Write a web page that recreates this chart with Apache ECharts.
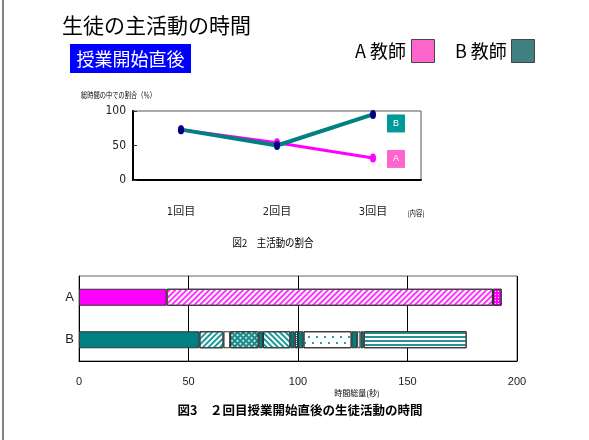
<!DOCTYPE html>
<html>
<head>
<meta charset="utf-8">
<script src="https://cdn.jsdelivr.net/npm/echarts@6/dist/echarts.min.js"></script>
<style>
html,body{margin:0;padding:0;background:#fff;}
#chart{width:589px;height:440px;}
</style>
</head>
<body>
<div id="chart"></div>
<script>
// ---- data ----
const lineCategories = ['1回目', '2回目', '3回目'];
const lineA = [73, 54, 32];
const lineB = [73, 50, 95];
const barCategories = ['A', 'B'];
const segmentsA = [40, 149, 4];
const segmentsB = [55, 11, 3, 13, 2, 12.5, 2, 1.5, 2.5, 22, 2.5, 1.5, 1.5, 47];

// ---- styles (not data) ----
const patternNamesA = ['solidM', 'slashM', 'dotsM'];
const patternNamesB = ['solidT', 'slashT', 'white', 'crossT', 'solidT', 'backT', 'solidT', 'fineT', 'solidT', 'dotsT', 'solidT', 'white', 'solidT', 'hstripeT'];
const MAG = '#ff00ff', TEAL = '#008080';
const patterns = {
  solidM: { color: MAG },
  slashM: { color: '#fff', decal: { symbol: 'rect', color: '#ff33ff', dashArrayX: [1, 0], dashArrayY: [2, 2], rotation: -Math.PI / 4 } },
  dotsM: { color: MAG, decal: { symbol: 'rect', color: '#ffffff', dashArrayX: [1, 2], dashArrayY: [1, 2] } },
  solidT: { color: TEAL },
  white: { color: '#ffffff' },
  slashT: { color: '#fff', decal: { symbol: 'rect', color: '#1a9a9a', dashArrayX: [1, 0], dashArrayY: [2, 2], rotation: -Math.PI / 4 } },
  backT: { color: '#fff', decal: { symbol: 'rect', color: '#1a9a9a', dashArrayX: [1, 0], dashArrayY: [2, 2], rotation: Math.PI / 4 } },
  crossT: { color: '#1a8c8c', decal: { symbol: 'rect', color: 'rgba(255,255,255,0.75)', dashArrayX: [1.5, 1.5], dashArrayY: [1.5, 1.5], rotation: Math.PI / 4 } },
  fineT: { color: '#fff', decal: { symbol: 'rect', color: TEAL, dashArrayX: [1, 1], dashArrayY: [1, 1] } },
  dotsT: { color: '#fff', decal: { symbol: 'rect', color: '#2aa0a0', dashArrayX: [[1.5, 5.5], [0, 3.5, 1.5, 2]], dashArrayY: [1.5, 3.5] } },
  hstripeT: { color: '#fff', decal: { symbol: 'rect', color: '#2a9090', dashArrayX: [1, 0], dashArrayY: [1.2, 1.8] } }
};

const JP = '"Noto Sans CJK JP", sans-serif';
const NARROW = '"Liberation Sans Narrow", "DejaVu Sans Condensed", "Noto Sans CJK JP", sans-serif';
const SANS = '"Liberation Sans", Arial, "Noto Sans CJK JP", sans-serif';

const series = [];
series.push({
  type: 'line', name: 'A', xAxisIndex: 0, yAxisIndex: 0, data: lineA,
  symbol: 'circle', symbolSize: [6, 9], z: 3,
  lineStyle: { color: MAG, width: 3 }, itemStyle: { color: MAG },
  endLabel: { show: true, formatter: 'A', color: '#fff', fontSize: 9, fontFamily: SANS,
    backgroundColor: '#ff66cc', padding: [5, 6, 4, 6], offset: [6, 1] }
});
series.push({
  type: 'line', name: 'B', xAxisIndex: 0, yAxisIndex: 0, data: lineB,
  symbol: 'circle', symbolSize: [6, 9], z: 4,
  lineStyle: { color: TEAL, width: 4 }, itemStyle: { color: '#000080' },
  endLabel: { show: true, formatter: 'B', color: '#fff', fontSize: 9, fontFamily: SANS,
    backgroundColor: '#009999', padding: [5, 6, 4, 6], offset: [6, 9] }
});
segmentsA.forEach(function (v, i) {
  series.push({
    type: 'bar', xAxisIndex: 1, yAxisIndex: 1, stack: 'time', barWidth: 17,
    data: [v, '-'],
    itemStyle: Object.assign({ borderColor: '#333', borderWidth: 1 }, patterns[patternNamesA[i]])
  });
});
segmentsB.forEach(function (v, i) {
  series.push({
    type: 'bar', xAxisIndex: 1, yAxisIndex: 1, stack: 'time', barWidth: 17,
    data: ['-', v],
    itemStyle: Object.assign({ borderColor: '#333', borderWidth: 1 }, patterns[patternNamesB[i]])
  });
});

function txt(text, x, y, size, opts) {
  return Object.assign({
    type: 'text', x: x, y: y,
    style: Object.assign({ text: text, fontSize: size, fontFamily: JP, fill: '#000', align: 'left', verticalAlign: 'middle' }, (opts && opts.style) || {})
  }, (opts && opts.el) || {});
}

const option = {
  animation: false,
  backgroundColor: '#fff',
  grid: [
    { left: 133, top: 111, width: 288, height: 69, show: true, borderColor: '#555', borderWidth: 1 },
    { left: 79, top: 276, width: 438, height: 85, show: true, borderColor: '#666', borderWidth: 1 }
  ],
  xAxis: [
    { type: 'category', gridIndex: 0, data: lineCategories, boundaryGap: true,
      axisLine: { lineStyle: { color: '#000', width: 2 } },
      axisTick: { inside: true, length: 5, lineStyle: { color: '#333', width: 1.5 } },
      axisLabel: { margin: 27, fontSize: 11, color: '#222', fontFamily: NARROW },
      splitLine: { show: false } },
    { type: 'value', gridIndex: 1, min: 0, max: 200, interval: 50,
      axisLine: { show: true, lineStyle: { color: '#000', width: 1 } },
      axisTick: { show: false },
      axisLabel: { margin: 15, fontSize: 11, color: '#222', fontFamily: SANS },
      splitLine: { show: true, lineStyle: { color: '#000', width: 1 } } }
  ],
  yAxis: [
    { type: 'value', gridIndex: 0, min: 0, max: 100, interval: 50,
      axisLine: { show: true, lineStyle: { color: '#000', width: 2 } },
      axisTick: { show: true, inside: true, length: 4, lineStyle: { color: '#333' } },
      axisLabel: { margin: 7, fontSize: 12, color: '#222', fontFamily: NARROW },
      splitLine: { show: false } },
    { type: 'category', gridIndex: 1, data: barCategories, inverse: true,
      axisLine: { show: true, lineStyle: { color: '#000', width: 1 } },
      axisTick: { show: false },
      axisLabel: { margin: 5, fontSize: 13, color: '#222', fontFamily: SANS },
      splitLine: { show: false } }
  ],
  series: series,
  graphic: [
    { type: 'line', shape: { x1: 3, y1: 0, x2: 3, y2: 440 }, style: { stroke: '#808080', lineWidth: 2 } },
    txt('生徒の主活動の時間', 62, 25, 21),
    { type: 'rect', shape: { x: 70, y: 44, width: 121, height: 29 }, style: { fill: '#0000ff' } },
    txt('授業開始直後', 130.5, 59, 18, { style: { fill: '#fff', align: 'center' } }),
    txt('A 教師', 355, 51, 18),
    { type: 'rect', shape: { x: 411.5, y: 39.5, width: 23, height: 23 }, style: { fill: '#ff66cc', stroke: '#444', lineWidth: 1 } },
    txt('B 教師', 455, 51, 18),
    { type: 'rect', shape: { x: 511.5, y: 39.5, width: 23, height: 23 }, style: { fill: '#408080', stroke: '#444', lineWidth: 1 } },
    txt('総時間の中での割合（％）', 81, 95, 8, { el: { scaleX: 0.78 } }),
    txt('(内容)', 416, 213, 8, { style: { align: 'center' }, el: { scaleX: 0.8 } }),
    txt('図2　主活動の割合', 273, 243, 11, { style: { align: 'center' }, el: { scaleX: 0.86 } }),
    txt('時間総量(秒)', 357, 393, 8, { style: { align: 'center' } }),
    txt('図3　２回目授業開始直後の生徒活動の時間', 300, 410, 12.5, { style: { align: 'center', fontWeight: 'bold' } })
  ]
};

const chart = echarts.init(document.getElementById('chart'), null, { renderer: 'canvas' });
chart.setOption(option);
</script>
</body>
</html>
